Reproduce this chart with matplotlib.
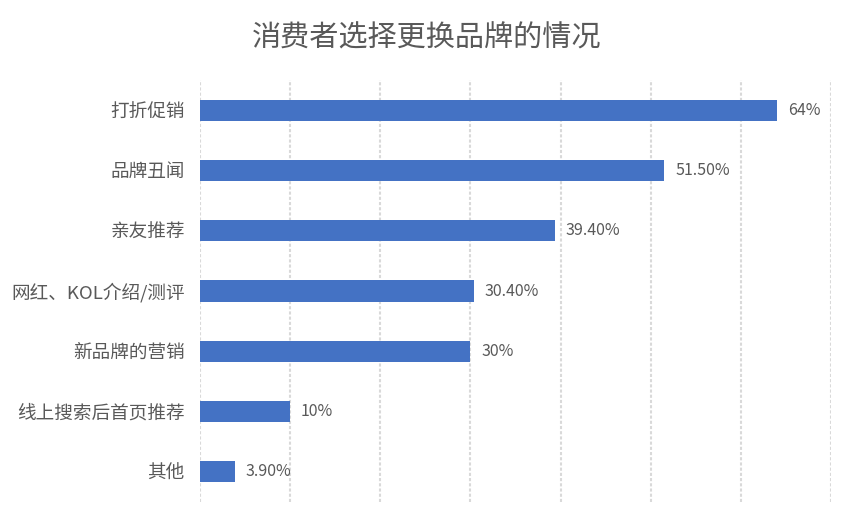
import matplotlib
matplotlib.use('Agg')
import matplotlib.pyplot as plt

plt.rcParams['font.family'] = ['Noto Sans CJK SC', 'DejaVu Sans']

categories = ['打折促销', '品牌丑闻', '亲友推荐', '网红、KOL介绍/测评', '新品牌的营销', '线上搜索后首页推荐', '其他']
values = [64, 51.5, 39.4, 30.4, 30, 10, 3.9]
value_labels = ['64%', '51.50%', '39.40%', '30.40%', '30%', '10%', '3.90%']

fig = plt.figure(figsize=(8.55, 5.25), dpi=100)
ax = fig.add_axes([200/855, 1-502/525, 631/855, 422/525])

y = list(range(len(categories)))
ax.barh(y, values, height=0.35, color='#4472C4', zorder=3)
for yi, v, lab in zip(y, values, value_labels):
    ax.text(v + 1.2, yi, lab, va='center', ha='left', fontsize=11.5, color='#595959')

ax.set_xlim(0, 70)
ax.set_ylim(6.5, -0.5)
ax.set_xticks(range(0, 71, 10))
ax.set_xticklabels([])
ax.set_yticks(y)
ax.set_yticklabels(categories, fontsize=13.4, color='#595959')
ax.tick_params(axis='both', length=0)
ax.tick_params(axis='y', pad=11)
ax.grid(axis='x', color='#d9d9d9', linestyle=(0, (1.5, 1)), linewidth=1.5, zorder=0)
for s in ax.spines.values():
    s.set_visible(False)

fig.text(427/855, 1-38/525, '消费者选择更换品牌的情况', ha='center', va='center', fontsize=21, color='#595959')

fig.savefig('out.png', dpi=100)
